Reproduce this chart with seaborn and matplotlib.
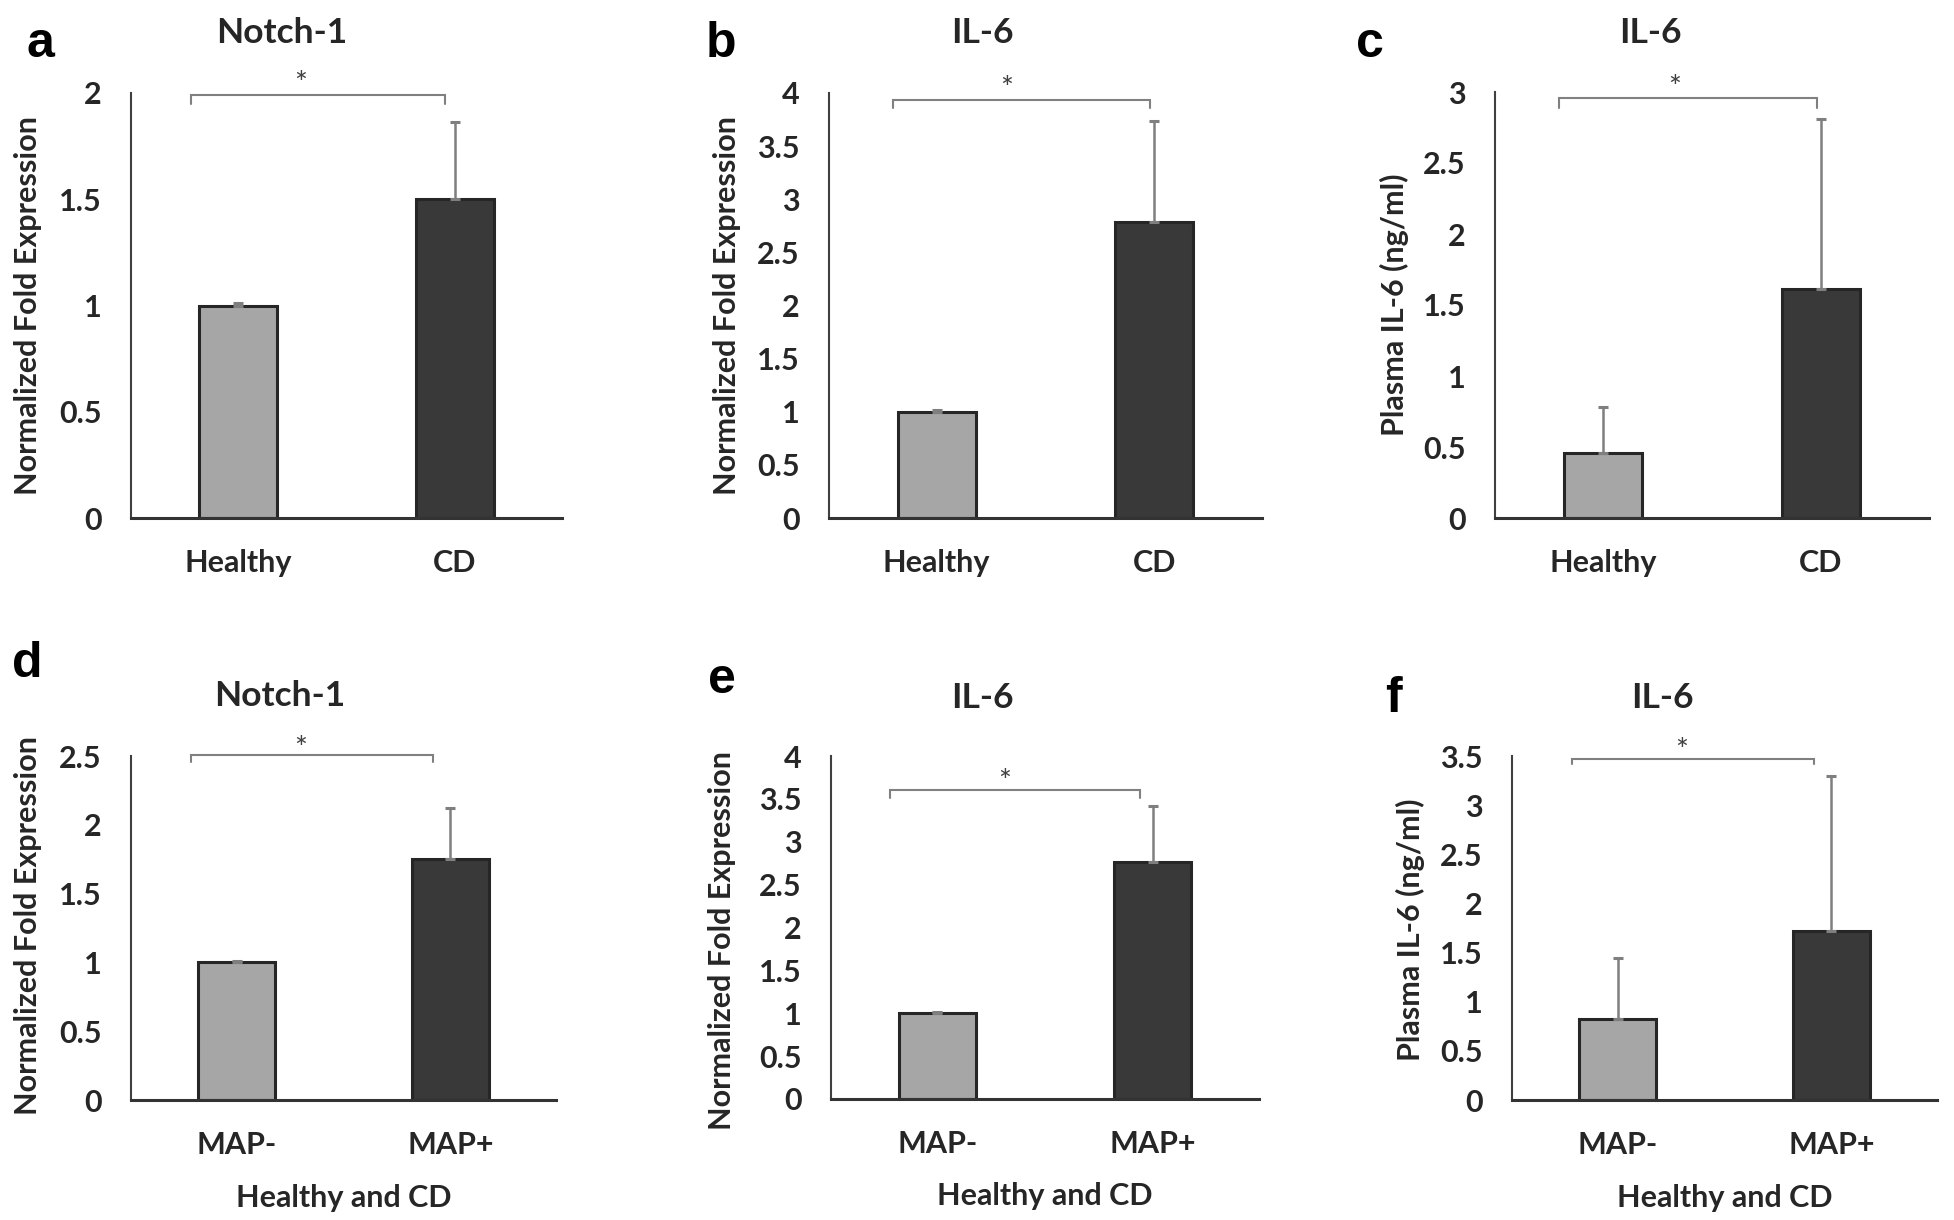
import numpy as np
import pandas as pd
import matplotlib
matplotlib.use('Agg')
import matplotlib.pyplot as plt
import seaborn as sns
from matplotlib.ticker import MultipleLocator, FuncFormatter

# Data (mean, upper SD)
groups_hc = ['Healthy', 'CD']
groups_map = ['MAP-', 'MAP+']

notch1_hc = [1.0, 1.50]
notch1_hc_err = [0.01, 0.365]
il6_fold_hc = [1.0, 2.79]
il6_fold_hc_err = [0.015, 0.95]
il6_plasma_hc = [0.46, 1.61]
il6_plasma_hc_err = [0.32, 1.20]

notch1_map = [1.0, 1.755]
notch1_map_err = [0.01, 0.37]
il6_fold_map = [1.0, 2.76]
il6_fold_map_err = [0.01, 0.66]
il6_plasma_map = [0.82, 1.72]
il6_plasma_map_err = [0.62, 1.58]

light = '#a6a6a6'
dark = '#393939'
ink = '#262626'

sns.set_style('white')
plt.rcParams['font.family'] = ['Lato', 'DejaVu Sans']
plt.rcParams['font.weight'] = 'bold'

fig = plt.figure(figsize=(19.54, 12.2), dpi=100)
W, H = 1954, 1220


def px_axes(left, top, right, bottom):
    return fig.add_axes([left / W, 1 - bottom / H, (right - left) / W, (bottom - top) / H])


panels = [
    dict(letter='a', title='Notch-1', groups=groups_hc, vals=notch1_hc, errs=notch1_hc_err,
         ylabel='Normalized Fold Expression', ymax=2, xlabel=None,
         box=(131, 93, 562, 518), br=(-0.22, 0.954, 1.95, 1.99), star=(0.29, 2.09),
         lab=(-0.207, 0.5), letpos=(27, 57), tpos=(282, 33)),
    dict(letter='b', title='IL-6', groups=groups_hc, vals=il6_fold_hc, errs=il6_fold_hc_err,
         ylabel='Normalized Fold Expression', ymax=4, xlabel=None,
         box=(829, 93, 1262, 518), br=(-0.2, 0.98, 3.86, 3.93), star=(0.32, 4.13),
         lab=(-0.204, 0.5), letpos=(706, 57), tpos=(982, 33)),
    dict(letter='c', title='IL-6', groups=groups_hc, vals=il6_plasma_hc, errs=il6_plasma_hc_err,
         ylabel='Plasma IL-6 (ng/ml)', ymax=3, xlabel=None,
         box=(1495, 92, 1929, 518), br=(-0.2, 0.98, 2.89, 2.96), star=(0.33, 3.10),
         lab=(-0.198, 0.5), letpos=(1356, 57), tpos=(1650, 33)),
    dict(letter='d', title='Notch-1', groups=groups_map, vals=notch1_map, errs=notch1_map_err,
         ylabel='Normalized Fold Expression', ymax=2.5, xlabel='Healthy and CD',
         box=(131, 756, 556, 1100), br=(-0.215, 0.92, 2.46, 2.51), star=(0.30, 2.62),
         lab=(-0.21, 0.507), letpos=(12, 677), tpos=(280, 696)),
    dict(letter='e', title='IL-6', groups=groups_map, vals=il6_fold_map, errs=il6_fold_map_err,
         ylabel='Normalized Fold Expression', ymax=4, xlabel='Healthy and CD',
         box=(831, 756, 1259, 1099), br=(-0.22, 0.94, 3.51, 3.60), star=(0.31, 3.81),
         lab=(-0.222, 0.463), letpos=(708, 693), tpos=(982, 698)),
    dict(letter='f', title='IL-6', groups=groups_map, vals=il6_plasma_map, errs=il6_plasma_map_err,
         ylabel='Plasma IL-6 (ng/ml)', ymax=3.5, xlabel='Healthy and CD',
         box=(1512, 756, 1937, 1100), br=(-0.215, 0.92, 3.42, 3.47), star=(0.30, 3.65),
         lab=(-0.205, 0.495), letpos=(1385, 712), tpos=(1662, 698)),
]

fmt = FuncFormatter(lambda v, p: ('%g' % v))
fs = 22

for p in panels:
    ax = px_axes(*p['box'])
    df = pd.DataFrame({'group': p['groups'], 'value': p['vals']})
    sns.barplot(data=df, x='group', y='value', hue='group', palette=[light, dark],
                order=p['groups'], legend=False, width=0.36, errorbar=None,
                edgecolor=ink, linewidth=2.2, ax=ax)
    pos = np.arange(len(p['groups']))
    ax.errorbar(pos, p['vals'], yerr=[np.zeros(len(pos)), p['errs']], fmt='none',
                ecolor='#7f7f7f', elinewidth=1.8, capsize=3.5, capthick=2.2, zorder=3)

    ax.set_xlim(-0.495, 1.495)
    ax.set_ylim(0, p['ymax'])
    ax.yaxis.set_major_locator(MultipleLocator(0.5))
    ax.yaxis.set_major_formatter(fmt)
    ax.tick_params(axis='y', length=0, pad=21, labelsize=fs, labelcolor=ink)
    ax.tick_params(axis='x', length=0, pad=22, labelsize=fs, labelcolor=ink)
    for lbl in ax.get_xticklabels() + ax.get_yticklabels():
        lbl.set_fontweight('bold')

    for s in ['top', 'right']:
        ax.spines[s].set_visible(False)
    ax.spines['left'].set_color('#404040')
    ax.spines['left'].set_linewidth(1.5)
    ax.spines['bottom'].set_color('#333333')
    ax.spines['bottom'].set_linewidth(2.2)

    ax.set_ylabel(p['ylabel'], fontsize=fs, fontweight='bold', color=ink)
    ax.yaxis.set_label_coords(*p['lab'])
    if p['xlabel']:
        ax.set_xlabel(p['xlabel'], fontsize=fs, fontweight='bold', color=ink)
        ax.xaxis.set_label_coords(0.5, -0.243)
    else:
        ax.set_xlabel('')

    # significance bracket
    x0, x1, ylo, yhi = p['br']
    ax.plot([x0, x0, x1, x1], [ylo, yhi, yhi, ylo], color='#808080', lw=1.5,
            clip_on=False, solid_joinstyle='miter')
    ax.annotate('*', xy=p['star'], xytext=(0, -7), textcoords='offset points',
                ha='center', va='center', fontsize=22, fontweight='normal',
                color='#404040', annotation_clip=False)

    fig.text(p['tpos'][0] / W, 1 - p['tpos'][1] / H, p['title'], ha='center', va='center',
             fontsize=25.5, fontweight='bold', color=ink)
    fig.text(p['letpos'][0] / W, 1 - p['letpos'][1] / H, p['letter'], ha='left', va='baseline',
             fontsize=36, fontweight='bold', color='black', family=['Liberation Sans', 'DejaVu Sans'])

fig.savefig('out.png', dpi=100, facecolor='white')
